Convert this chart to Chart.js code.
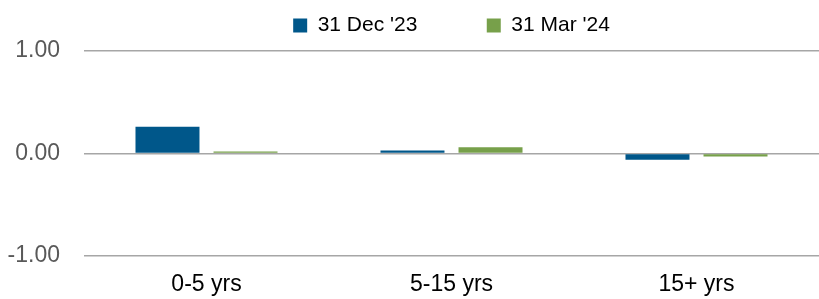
<!DOCTYPE html>
<html>
<head>
<meta charset="utf-8">
<script src="https://cdn.jsdelivr.net/npm/chart.js@4"></script>
<style>
  html, body { margin: 0; padding: 0; background: #fff; }
  #wrap { width: 819px; height: 299px; }
</style>
</head>
<body>
<div id="wrap"><canvas id="chart1"></canvas></div>
<script>
const categories = ['0-5 yrs', '5-15 yrs', '15+ yrs']
const dec23 = [0.26, 0.03, -0.06]
const mar24 = [0.02, 0.06, -0.03]
const seriesNames = ["31 Dec '23", "31 Mar '24"]

const data = {
  labels: categories,
  datasets: [{
    label: seriesNames[0],
    data: dec23,
    backgroundColor: '#00578a',
    categoryPercentage: 0.637,
    barPercentage: 0.82
  }, {
    label: seriesNames[1],
    data: mar24,
    backgroundColor: '#77a04a',
    categoryPercentage: 0.637,
    barPercentage: 0.82
  }]
}

// wider gap between the two legend entries, without growing the legend height
const legendLabels = chart =>
  Chart.defaults.plugins.legend.labels.generateLabels(chart).map((item, i) =>
    i === 0 ? { ...item, text: item.text + '          ' } : item)

// a bit of extra room under the legend
const legendMargin = {
  id: 'legendMargin',
  beforeInit(chart) {
    const fit = chart.legend.fit
    chart.legend.fit = function () {
      fit.bind(chart.legend)()
      this.height += 5
    }
  }
}

const options = {
  responsive: true,
  maintainAspectRatio: false,
  animation: false,
  layout: { padding: { left: 8, right: -3, top: 4, bottom: 0 } },
  plugins: {
    legend: {
      display: true,
      position: 'top',
      fullSize: false,
      labels: {
        boxWidth: 14,
        boxHeight: 14,
        padding: 11,
        color: '#000',
        font: { family: 'Liberation Sans', size: 21 },
        generateLabels: legendLabels
      }
    },
    tooltip: { enabled: false }
  },
  scales: {
    x: {
      grid: { display: false, drawTicks: false },
      border: { display: false },
      ticks: { color: '#000', font: { family: 'Liberation Sans', size: 23 }, padding: 15 },
      afterFit: scale => { scale.height = 43 }
    },
    y: {
      min: -1,
      max: 1,
      ticks: {
        stepSize: 1,
        color: '#595959',
        padding: 24,
        font: { family: 'Liberation Sans', size: 23 },
        callback: v => v.toFixed(2)
      },
      grid: { color: '#a6a6a6', lineWidth: 1.5, drawTicks: false },
      border: { display: false },
      afterFit: scale => { scale.width = 76 }
    }
  }
}

new Chart('chart1', { type: 'bar', data, options, plugins: [legendMargin] })
</script>
</body>
</html>
